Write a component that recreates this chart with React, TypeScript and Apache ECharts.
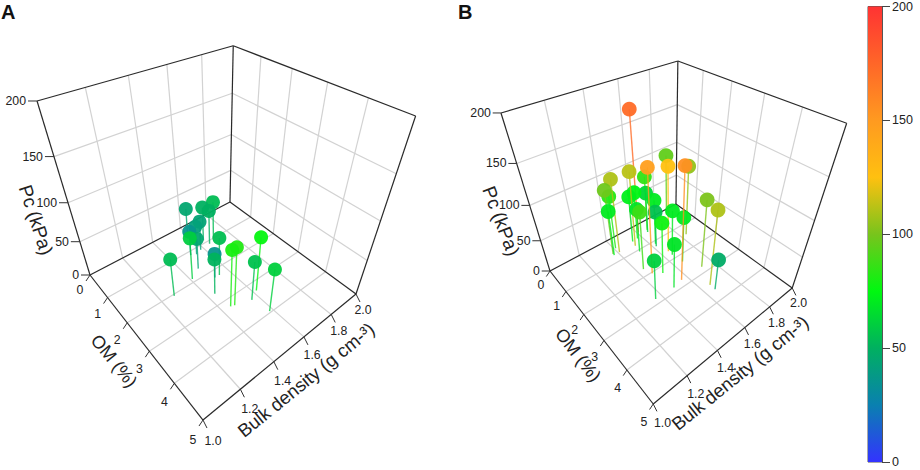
import React, { useEffect, useRef } from 'react';
import * as echarts from 'echarts';

const omTicks = [0, 1, 2, 3, 4, 5];
const bdTicks = [1.0, 1.2, 1.4, 1.6, 1.8, 2.0];
const pcTicks = [0, 50, 100, 150, 200];
const barColors = ['#3333ff', '#0a80b0', '#00b060', '#00f810', '#78c41c', '#ffc010', '#ff9a20', '#ff6628', '#ff3333'];

// panel A
const omA = [2.05, 3.27, 3.42, 3.96, 3.23, 3.27, 2.23, 2.66, 2.24, 1.89, 1.69, 1.14, 1.22, 1.15, 0.52, 1.12, 0.89, 0.99];
const bdA = [1.27, 1.62, 1.56, 1.58, 1.45, 1.47, 1.51, 1.44, 1.54, 1.41, 1.48, 1.51, 1.54, 1.58, 1.58, 1.65, 1.64, 1.7];
const pcA = [54, 76, 56, 61, 80, 82, 36, 51, 55, 60, 45, 36, 42, 43, 45, 50, 50, 54];

// panel B
const omB = [0.34, 0.24, 2.04, 1.65, 2.78, 1.43, 0.78, 0.69, 0.43, 0.63, 0.47, 0.57, 0.56, 0.52, 1.13, 0.69, 1.08, 1.74, 1.23, 1.84, 2.23, 2.26, 2.79, 3.44, 2.85, 2.83, 3.64];
const bdB = [1.61, 1.87, 1.46, 1.65, 1.56, 1.84, 1.52, 1.41, 1.67, 1.37, 1.41, 1.53, 1.57, 1.66, 1.63, 1.37, 1.51, 1.44, 1.62, 1.65, 1.51, 1.66, 1.72, 1.66, 1.49, 1.36, 1.66];
const pcB = [172, 95, 147, 125, 155, 105, 112, 110, 85, 98, 82, 72, 74, 64, 70, 70, 68, 88, 56, 70, 78, 70, 101, 110, 68, 61, 48];

// persp() style view matrices, rows are x, y, w against (om/5, bd-1, pc/200, 1)
const viewA = [
  [59.63, 189.7, -63.7, 90],
  [34.6, -29.35, -203.3, 275],
  [-0.2629, 0.2161, -0.29, 1],
];
const viewB = [
  [-73, 268.4, -194.3, 550],
  [24, -24, -190.8, 271],
  [-0.2698, 0.2107, -0.29, 1],
];

const FONT = '"Liberation Sans", Arial, sans-serif';
const TEXT = '#222';

function project(view: number[][], om: number, bd: number, pc: number) {
  const v = [om / 5, bd - 1, pc / 200, 1];
  const dot = (r: number[]) => r[0] * v[0] + r[1] * v[1] + r[2] * v[2] + r[3];
  const w = dot(view[2]);
  return [dot(view[0]) / w, dot(view[1]) / w, w];
}

const pcColor = (pc: number) => echarts.color.lerp(pc / 200, barColors) as string;

// one custom series of straight 3d segments, [om, bd, pc, om, bd, pc]
function segmentSeries(view: number[][], segs: number[][], stroke: string, lineWidth: number, z: number) {
  return {
    type: 'custom',
    coordinateSystem: 'cartesian2d',
    clip: false,
    silent: true,
    z,
    data: segs,
    renderItem: (params: any, api: any) => {
      const s = segs[params.dataIndex];
      const a = api.coord(project(view, s[0], s[1], s[2]));
      const b = api.coord(project(view, s[3], s[4], s[5]));
      return {
        type: 'line',
        shape: { x1: a[0], y1: a[1], x2: b[0], y2: b[1] },
        style: { stroke, lineWidth, fill: 'none' },
      };
    },
  };
}

// a tick mark and its label at a 3d position
function tickSeries(view: number[][], pts: number[][], labels: string[], tick: (i: number) => number[], off: (i: number) => number[], align: string) {
  return {
    type: 'custom',
    coordinateSystem: 'cartesian2d',
    clip: false,
    silent: true,
    z: 3,
    data: pts,
    renderItem: (params: any, api: any) => {
      const i = params.dataIndex;
      const p = api.coord(project(view, pts[i][0], pts[i][1], pts[i][2]));
      const t = tick(i);
      const o = off(i);
      return {
        type: 'group',
        children: [
          {
            type: 'line',
            shape: { x1: p[0], y1: p[1], x2: p[0] + t[0], y2: p[1] + t[1] },
            style: { stroke: '#333', lineWidth: 1, fill: 'none' },
          },
          {
            type: 'text',
            style: {
              text: labels[i], x: p[0] + o[0], y: p[1] + o[1], fill: TEXT,
              font: `12.3px ${FONT}`, textAlign: align, textVerticalAlign: 'middle',
            },
          },
        ],
      };
    },
  };
}

function pointSeries(view: number[][], om: number[], bd: number[], pc: number[], radius: number) {
  // far points first so that the near ones cover them
  const order = om.map((_, i) => i).sort((a, b) => project(view, om[b], bd[b], 0)[2] - project(view, om[a], bd[a], 0)[2]);
  return {
    type: 'custom',
    coordinateSystem: 'cartesian2d',
    clip: false,
    silent: true,
    z: 4,
    data: order.map((i) => [om[i], bd[i], pc[i]]),
    renderItem: (params: any, api: any) => {
      const i = order[params.dataIndex];
      const top = api.coord(project(view, om[i], bd[i], pc[i]));
      const foot = api.coord(project(view, om[i], bd[i], 0));
      const color = pcColor(pc[i]);
      return {
        type: 'group',
        children: [
          {
            type: 'line',
            shape: { x1: top[0], y1: top[1], x2: foot[0], y2: foot[1] },
            style: { stroke: color, lineWidth: 1.4, opacity: 0.8, fill: 'none' },
          },
          {
            type: 'circle',
            shape: { cx: top[0], cy: top[1], r: radius },
            style: { fill: color, opacity: 0.95 },
          },
        ],
      };
    },
  };
}

function panelSeries(view: number[][], om: number[], bd: number[], pc: number[], radius: number, s: number) {
  const [omMin, omMax] = [omTicks[0], omTicks[omTicks.length - 1]];
  const [bdMin, bdMax] = [bdTicks[0], bdTicks[bdTicks.length - 1]];
  const [pcMin, pcMax] = [pcTicks[0], pcTicks[pcTicks.length - 1]];
  const grid: number[][] = [];
  bdTicks.slice(1, -1).forEach((b) => {
    grid.push([omMin, b, pcMin, omMax, b, pcMin]); // floor
    grid.push([omMin, b, pcMin, omMin, b, pcMax]); // left wall
  });
  omTicks.slice(1, -1).forEach((o) => {
    grid.push([o, bdMin, pcMin, o, bdMax, pcMin]);
    grid.push([o, bdMax, pcMin, o, bdMax, pcMax]); // right wall
  });
  pcTicks.slice(1, -1).forEach((p) => {
    grid.push([omMin, bdMin, p, omMin, bdMax, p]);
    grid.push([omMin, bdMax, p, omMax, bdMax, p]);
  });
  const frame = [
    [omMin, bdMin, pcMin, omMax, bdMin, pcMin],
    [omMax, bdMin, pcMin, omMax, bdMax, pcMin],
    [omMax, bdMax, pcMin, omMin, bdMax, pcMin],
    [omMin, bdMax, pcMin, omMin, bdMin, pcMin],
    [omMin, bdMin, pcMin, omMin, bdMin, pcMax],
    [omMin, bdMax, pcMin, omMin, bdMax, pcMax],
    [omMax, bdMax, pcMin, omMax, bdMax, pcMax],
    [omMin, bdMin, pcMax, omMin, bdMax, pcMax],
    [omMin, bdMax, pcMax, omMax, bdMax, pcMax],
  ];
  return [
    segmentSeries(view, grid, '#d2d2d2', 1.2, 1),
    segmentSeries(view, frame, '#2a2a2a', 1.2, 2),
    tickSeries(
      view,
      pcTicks.map((p) => [omMin, bdMin, p]),
      pcTicks.map(String),
      () => [-9 * s, 0],
      () => [-11 * s, 0],
      'right',
    ),
    tickSeries(
      view,
      omTicks.map((o) => [o, bdMin, pcMin]),
      omTicks.map(String),
      () => [-4 * s, 6 * s],
      (i) => [-10 * s, (15 + i) * s],
      'center',
    ),
    tickSeries(
      view,
      bdTicks.map((b) => [omMax, b, pcMin]),
      bdTicks.map((b) => b.toFixed(1)),
      () => [4 * s, 8 * s],
      (i) => [(10 - 0.6 * i) * s, (21 - i) * s],
      'center',
    ),
    pointSeries(view, om, bd, pc, radius),
  ];
}

const title = (text: string, x: number, y: number, deg: number, size = 18) => ({
  type: 'text',
  x,
  y,
  rotation: (deg * Math.PI) / 180,
  silent: true,
  style: { text, fill: TEXT, font: `${size}px ${FONT}`, textAlign: 'center', textVerticalAlign: 'middle' },
});

export default function App() {
  const chartRef = useRef<HTMLDivElement>(null);

  useEffect(() => {
    if (!chartRef.current) return;
    document.body.style.margin = '0';
    const myChart = echarts.init(chartRef.current, null, { renderer: 'svg' });

    const option = {
      animation: false,
      backgroundColor: '#fff',
      grid: [
        { left: 0, right: 0, top: 0, bottom: 0 },
        { left: 868, top: 6, width: 14, height: 456, show: true, borderColor: '#555', borderWidth: 1, backgroundColor: 'transparent' },
      ],
      xAxis: [
        { type: 'value', gridIndex: 0, min: 0, max: 920, show: false },
        { type: 'category', gridIndex: 1, data: ['Pc'], show: false },
      ],
      yAxis: [
        { type: 'value', gridIndex: 0, min: 0, max: 470, inverse: true, show: false },
        {
          type: 'value',
          gridIndex: 1,
          position: 'right',
          min: 0,
          max: 200,
          interval: 50,
          splitLine: { show: false },
          axisLine: { show: true, lineStyle: { color: '#555' } },
          axisTick: { show: true, length: 8, lineStyle: { color: '#444' } },
          axisLabel: { margin: 10, color: TEXT, fontFamily: FONT, fontSize: 12.5 },
        },
      ],
      series: [
        ...panelSeries(viewA, omA, bdA, pcA, 7, 1),
        ...panelSeries(viewB, omB, bdB, pcB, 7.4, 0.92),
        {
          type: 'bar',
          xAxisIndex: 1,
          yAxisIndex: 1,
          barWidth: '100%',
          silent: true,
          data: [200],
          itemStyle: {
            color: new echarts.graphic.LinearGradient(
              0, 1, 0, 0,
              barColors.map((color, i) => ({ offset: i / (barColors.length - 1), color })),
            ),
          },
        },
      ],
      graphic: [
        { type: 'text', x: 1, y: 2, silent: true, style: { text: 'A', fill: '#111', font: `bold 20px ${FONT}` } },
        { type: 'text', x: 458, y: 2, silent: true, style: { text: 'B', fill: '#111', font: `bold 20px ${FONT}` } },
        title('Pc (kPa)', 36, 220, -72, 19),
        title('OM (%)', 114, 361, -51),
        title('Bulk density (g cm-³)', 306, 380, 39, 18.5),
        title('Pc (kPa)', 501, 221, -69, 19),
        title('OM (%)', 578, 355, -52),
        title('Bulk density (g cm-³)', 740, 373, 39, 18.5),
      ],
    };

    myChart.setOption(option as any);

    return () => {
      myChart.dispose();
    };
  }, []);

  return <div ref={chartRef} style={{ width: 920, height: 470 }} />;
}
